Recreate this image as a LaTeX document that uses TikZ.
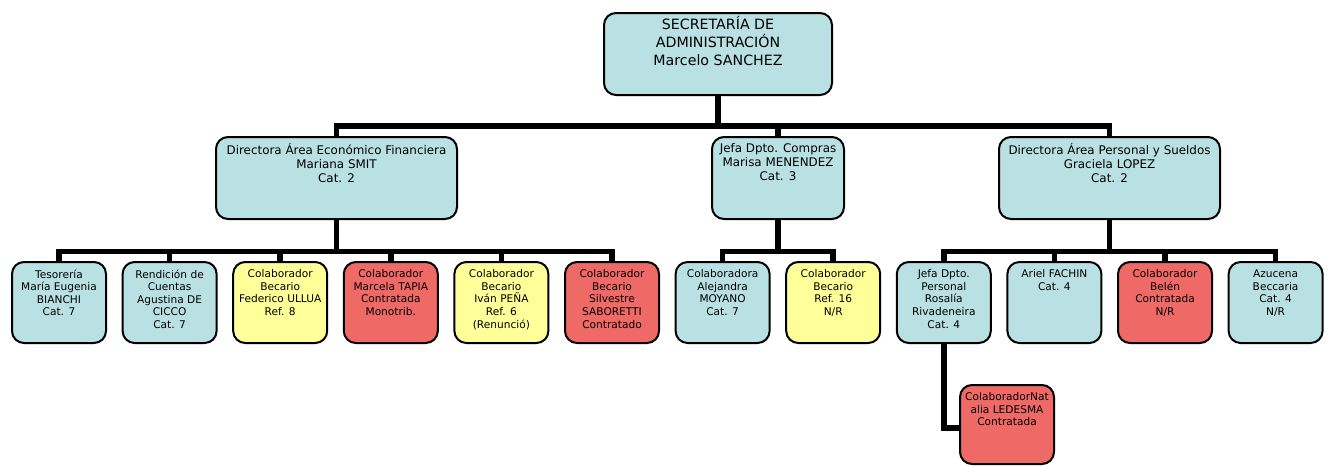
\documentclass[tikz,border=0pt]{standalone}
\usepackage{fontspec}
\setmainfont{DejaVu Sans}
\definecolor{cardblue}{RGB}{185,224,227}
\definecolor{cardyellow}{RGB}{255,255,153}
\definecolor{cardred}{RGB}{239,106,102}

% \orgcard{name}{x1}{y1}{x2}{y2}{fill}{text style}{text}
\newcommand\orgcard[8]{%
  \node[card, fill=#6, minimum width={(#4-#2-2)*1pt}, minimum height={(#5-#3-2)*1pt}]
    (#1) at ({#2+1},{#3+1}) {};
  \node[#7] (#1-txt) at (#1.north) {#8};
}

\begin{document}
\begin{tikzpicture}[x=1pt, y=-1pt,
  card/.style={draw=black, line width=2pt, rounded corners=12pt,
    anchor=north west, inner sep=0pt},
  cardtext/.style={anchor=north, inner sep=0pt, align=center, text=black,
    execute at begin node={\rule{0pt}{1.15em}}},
  toptext/.style={cardtext, font=\fontsize{14.2}{17.7}\selectfont, yshift=-4.5pt},
  midtext/.style={cardtext, font=\fontsize{11.9}{14.2}\selectfont, yshift=-6.8pt},
  lowtext/.style={cardtext, font=\fontsize{10.6}{12.6}\selectfont, yshift=-8.5pt},
  link/.style={draw=black, line width=5.5pt}
]
\useasboundingbox (0,0) rectangle (1332,466);

% top level
\orgcard{top}{602}{11}{832}{95}{cardblue}{toptext}{SECRETARÍA DE\\ADMINISTRACIÓN\\Marcelo SANCHEZ}

% second level
\orgcard{ef}{214}{135}{457}{219}{cardblue}{midtext}{Directora Área Económico Financiera\\Mariana SMIT\\Cat. 2}
\orgcard{comp}{710}{135}{844}{219}{cardblue}{midtext}{Jefa Dpto. Compras\\Marisa MENENDEZ\\Cat. 3}
\orgcard{pers}{997}{135}{1220}{219}{cardblue}{midtext}{Directora Área Personal y Sueldos\\Graciela LOPEZ\\Cat. 2}

% third level
\orgcard{t1}{10}{260}{106}{343}{cardblue}{lowtext}{Tesorería\\María Eugenia\\BIANCHI\\Cat. 7}
\orgcard{t2}{120.6}{260}{216.6}{343}{cardblue}{lowtext}{Rendición de\\Cuentas\\Agustina DE\\CICCO\\Cat. 7}
\orgcard{t3}{231.2}{260}{327.2}{343}{cardyellow}{lowtext}{Colaborador\\Becario\\Federico ULLUA\\Ref. 8}
\orgcard{t4}{341.8}{260}{437.8}{343}{cardred}{lowtext}{Colaborador\\Marcela TAPIA\\Contratada\\Monotrib.}
\orgcard{t5}{452.4}{260}{548.4}{343}{cardyellow}{lowtext}{Colaborador\\Becario\\Iván PEÑA\\Ref. 6\\(Renunció)}
\orgcard{t6}{563}{260}{659}{343}{cardred}{lowtext}{Colaborador\\Becario\\Silvestre\\SABORETTI\\Contratado}
\orgcard{t7}{673.6}{260}{769.6}{343}{cardblue}{lowtext}{Colaboradora\\Alejandra\\MOYANO\\Cat. 7}
\orgcard{t8}{784.2}{260}{880.2}{343}{cardyellow}{lowtext}{Colaborador\\Becario\\Ref. 16\\N/R}
\orgcard{t9}{894.8}{260}{990.8}{343}{cardblue}{lowtext}{Jefa Dpto.\\Personal\\Rosalía\\Rivadeneira\\Cat. 4}
\orgcard{t10}{1005.4}{260}{1101.4}{343}{cardblue}{lowtext}{Ariel FACHIN\\Cat. 4}
\orgcard{t11}{1116}{260}{1212}{343}{cardred}{lowtext}{Colaborador\\Belén\\Contratada\\N/R}
\orgcard{t12}{1226.6}{260}{1322.6}{343}{cardblue}{lowtext}{Azucena\\Beccaria\\Cat. 4\\N/R}

% fourth level
\orgcard{nat}{958}{383}{1054}{464}{cardred}{lowtext}{ColaboradorNat\\alia LEDESMA\\Contratada}

% connectors
\draw[link] (top.south) -- ++(0,30) coordinate (hub) -| (ef.north);
\draw[link] (hub) -| (comp.north);
\draw[link] (hub) -| (pers.north);

\foreach \c in {t1,t2,t3,t4,t5,t6}
  \draw[link] (ef.south) -- ++(0,31.5) -| (\c.north);
\foreach \c in {t7,t8}
  \draw[link] (comp.south) -- ++(0,31.5) -| (\c.north);
\foreach \c in {t9,t10,t11,t12}
  \draw[link] (pers.south) -- ++(0,31.5) -| (\c.north);

\draw[link] (t9.south) |- ([yshift=-3.5pt]nat.west);
\end{tikzpicture}
\end{document}
